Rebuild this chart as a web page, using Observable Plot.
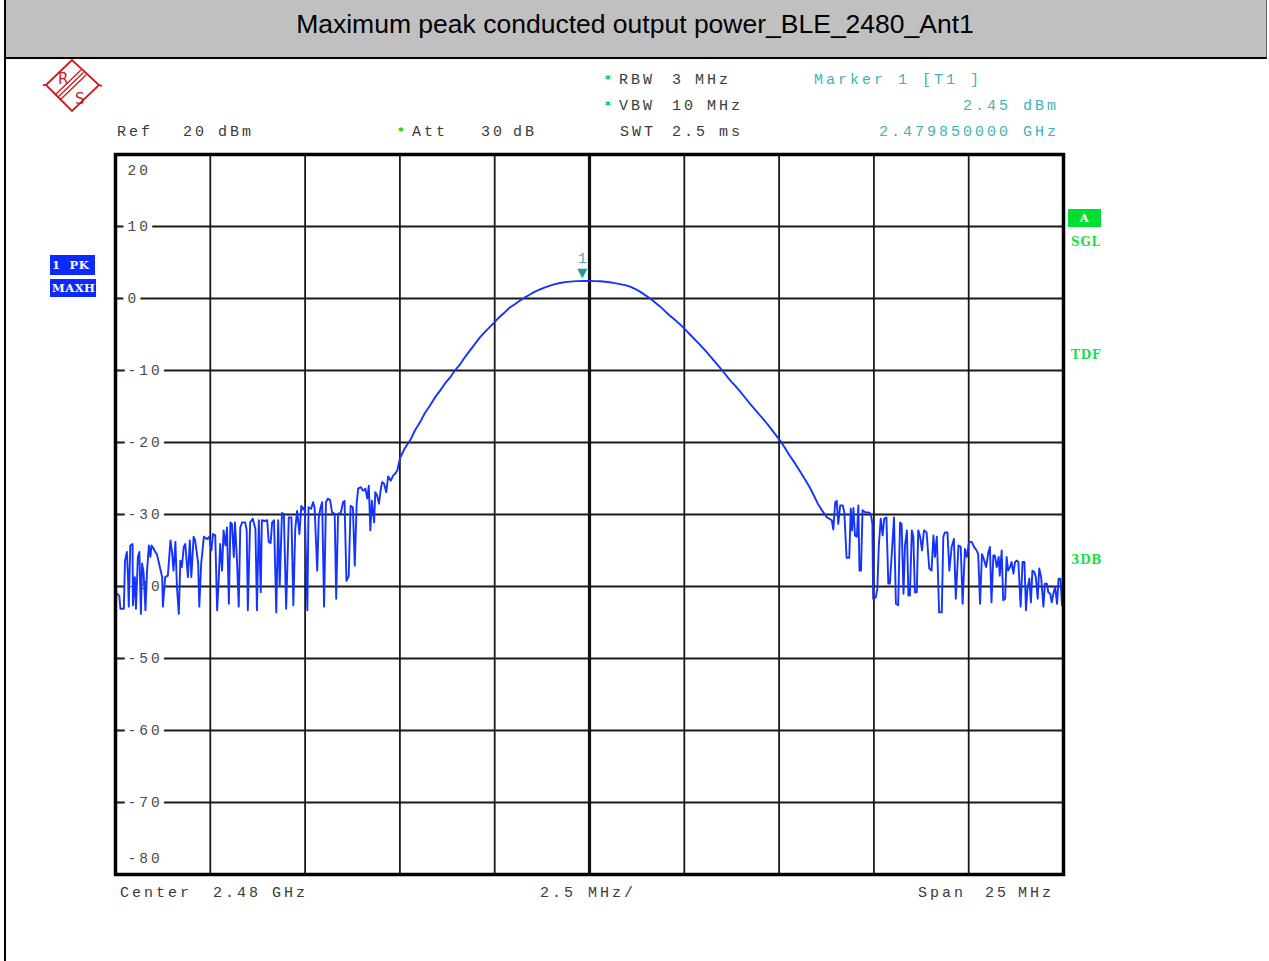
<!DOCTYPE html>
<html><head><meta charset="utf-8">
<script src="https://cdn.jsdelivr.net/npm/d3@7"></script>
<script src="https://cdn.jsdelivr.net/npm/@observablehq/plot@0.6"></script>
<style>
html,body{margin:0;padding:0;background:#fff;width:1269px;height:961px;overflow:hidden;}
#wrap{position:relative;width:1269px;height:961px;}
#chart{position:absolute;left:0;top:0;z-index:1;}
#chart svg text{letter-spacing:3px;}
#titlebar{position:absolute;left:4px;top:0;width:1262px;height:57px;background:#c0c0c0;border-bottom:2px solid #000;border-right:1px solid #666;z-index:2;
  font-family:"Liberation Sans",Arial,sans-serif;font-size:26.5px;color:#000;text-align:center;line-height:48px;}
#leftline{position:absolute;left:4px;top:0;width:2px;height:961px;background:#000;z-index:3;}
.t{position:absolute;font-family:"Liberation Mono",monospace;font-size:15px;letter-spacing:3px;color:#3a3a3a;white-space:pre;line-height:15px;transform:translateY(-50%);z-index:2;}
.teal{color:#3cb4b8;}
.star{position:absolute;color:#00c020;font-family:"DejaVu Sans",sans-serif;font-size:11px;font-weight:bold;line-height:11px;transform:translateY(-50%);z-index:2;}
.box{position:absolute;color:#fff;font-family:"DejaVu Serif",serif;font-weight:bold;font-size:11.5px;line-height:11px;overflow:hidden;white-space:pre;z-index:2;display:flex;align-items:center;letter-spacing:0.5px;}
.grn{position:absolute;color:#22dd44;font-family:"DejaVu Serif",serif;font-weight:bold;font-size:12px;letter-spacing:0.8px;line-height:12px;transform:translateY(-50%);z-index:2;}
#logo{position:absolute;left:40px;top:55px;z-index:2;}
</style></head>
<body>
<div id="wrap">
  <div id="chart"></div>
  <div id="titlebar">Maximum peak conducted output power_BLE_2480_Ant1</div>
  <div id="leftline"></div>
  <svg id="logo" width="64" height="60" viewBox="0 0 64 60">
    <g stroke="#cc1a1a" fill="none" stroke-width="1.8">
      <polygon points="6,30 32,5 59,30 32,56"/>
      <line x1="3" y1="30" x2="6" y2="30"/>
      <line x1="59" y1="30" x2="62" y2="31"/>
      <line x1="15" y1="40" x2="41" y2="15" stroke-width="1.3"/>
      <line x1="17.5" y1="42.5" x2="43.5" y2="17.5" stroke-width="1.3"/>
      <line x1="20" y1="45" x2="46" y2="20" stroke-width="1.3"/>
    </g>
    <text x="18" y="29" fill="#cc1a1a" font-family="DejaVu Sans" font-size="15">R</text>
    <text x="35" y="49" fill="#cc1a1a" font-family="DejaVu Sans" font-size="15">S</text>
  </svg>
</div>
<script>
// Grid divisions (MHz offset from 2.48 GHz centre) and level ticks (dBm)
const xDivisions = [-12.5,-10,-7.5,-5,-2.5,0,2.5,5,7.5,10,12.5];
const yTicks = [20,10,0,-10,-20,-30,-40,-50,-60,-70,-80];

// Trace: left noise floor (MHz offset, dBm)
const leftNoiseF = [-12.46,-12.40,-12.37,-12.28,-12.25,-12.20,-12.17,-12.15,-12.11,-12.05,-12.04,-11.99,-11.96,-11.91,-11.87,-11.83,-11.80,-11.76,-11.71,-11.67,-11.62,-11.58,-11.55,-11.49,-11.45,-11.41,-11.36,-11.27,-11.25,-11.19,-11.12,-11.05,-11.01,-10.97,-10.92,-10.88,-10.83,-10.79,-10.75,-10.70,-10.66,-10.59,-10.54,-10.50,-10.44,-10.40,-10.32,-10.29,-10.24,-10.17,-10.09,-10.03,-9.97,-9.93,-9.87,-9.82,-9.78,-9.74,-9.69,-9.65,-9.60,-9.56,-9.51,-9.47,-9.43,-9.38,-9.35,-9.30,-9.25,-9.21,-9.16,-9.08,-9.04,-9.01,-8.95,-8.88,-8.81,-8.77,
-8.72,-8.67,-8.64,-8.57,-8.50,-8.46,-8.41,-8.37,-8.32,-8.26,-8.21,-8.17,-8.11,-8.06,-8.00,-7.93,-7.86,-7.81,-7.76,-7.71,-7.65,-7.60,-7.55,-7.51,-7.44,-7.41,-7.34,-7.29,-7.25,-7.18,-7.14,-7.09,-7.05,-7.00,-6.95,-6.90,-6.84,-6.79,-6.72,-6.68,-6.63,-6.56,-6.50,-6.46,-6.41,-6.35,-6.30,-6.24,-6.19,-6.14,-6.10,-6.03,-5.97,-5.91,-5.86,-5.82,-5.78,-5.74,-5.68,-5.65,-5.60,-5.55,-5.51,-5.47,-5.42,-5.36,-5.31,-5.24,-5.18,-5.12,-5.07];
const leftNoiseP = [-41.0,-41.3,-43.1,-43.1,-36.4,-35.2,-38.7,-42.8,-34.3,-34.1,-42.6,-38.7,-43.1,-35.9,-35.2,-43.8,-36.8,-38.0,-43.3,-38.0,-34.3,-35.9,-34.3,-34.8,-35.2,-35.5,-36.6,-38.7,-42.8,-38.7,-38.5,-33.6,-35.2,-37.8,-33.8,-40.1,-43.8,-36.4,-37.3,-34.5,-34.1,-38.7,-33.6,-38.7,-33.1,-33.6,-36.8,-42.8,-36.8,-33.1,-33.4,-33.1,-35.0,-32.7,-32.9,-43.3,-39.2,-34.1,-37.8,-32.2,-34.3,-31.8,-42.4,-31.1,-31.3,-35.9,-31.1,-35.9,-42.8,-31.8,-31.1,-31.1,-32.2,-43.3,-31.1,-30.6,-32.0,-43.3,
-30.8,-40.8,-30.8,-30.9,-30.8,-33.8,-34.0,-31.1,-30.8,-43.6,-30.8,-39.9,-29.8,-29.9,-43.1,-30.4,-30.4,-42.6,-32.0,-29.5,-32.7,-28.8,-29.3,-28.9,-43.3,-29.0,-29.2,-28.3,-29.0,-37.8,-30.4,-29.0,-28.3,-42.8,-28.3,-27.8,-28.0,-29.7,-29.9,-41.7,-29.9,-29.8,-28.3,-28.1,-39.2,-38.6,-28.8,-29.0,-37.1,-28.5,-26.4,-26.2,-26.7,-26.4,-27.8,-26.0,-32.2,-28.1,-31.1,-26.9,-27.4,-28.5,-26.7,-25.5,-25.7,-26.9,-24.7,-25.3,-24.6,-24.3,-23.9];

// Trace: main lobe
const lobeF = [-5.00,-4.87,-4.73,-4.60,-4.47,-4.34,-4.21,-4.07,-3.94,-3.81,-3.68,-3.55,-3.42,-3.28,-3.15,-3.02,-2.89,-2.75,-2.62,-2.49,-2.36,-2.23,-2.10,-1.97,-1.84,-1.70,-1.57,-1.44,-1.31,-1.17,-1.04,-0.91,-0.78,-0.64,-0.51,-0.33,-0.15,0.01,0.14,0.28,0.41,0.54,0.67,0.80,0.94,1.07,1.20,1.33,1.46,1.60,1.73,1.86,1.99,2.12,2.26,2.39,2.52,2.65,2.78,2.91,3.05,3.18,3.31,3.44,3.57,3.70,3.84,3.97,4.10,4.23,4.36,4.50,4.63,4.76,4.89,5.02,5.16,5.29,5.42,5.55,5.68,5.81,5.92,6.02,6.14,6.26];
const lobeP = [-22.2,-20.8,-19.7,-18.3,-17.2,-15.9,-14.9,-13.7,-12.8,-11.8,-11.0,-10.0,-9.2,-8.1,-7.2,-6.3,-5.4,-4.6,-3.9,-3.2,-2.5,-1.9,-1.25,-0.8,-0.3,0.15,0.55,0.95,1.25,1.55,1.8,2.0,2.15,2.28,2.35,2.42,2.45,2.43,2.42,2.4,2.33,2.25,2.14,2.0,1.85,1.65,1.35,0.95,0.5,0.0,-0.55,-1.1,-1.75,-2.4,-3.0,-3.6,-4.3,-5.0,-5.7,-6.4,-7.2,-8.0,-8.8,-9.6,-10.45,-11.3,-12.1,-12.9,-13.75,-14.6,-15.4,-16.25,-17.05,-17.9,-18.8,-19.7,-20.8,-21.9,-22.9,-24.0,-25.1,-26.25,-27.4,-28.5,-29.5,-30.4];

// Trace: right noise floor
const rightNoiseF = [6.39,6.43,6.48,6.52,6.56,6.61,6.68,6.72,6.78,6.85,6.89,6.92,6.96,7.00,7.05,7.09,7.12,7.16,7.20,7.27,7.35,7.42,7.46,7.48,7.55,7.59,7.63,7.68,7.73,7.77,7.83,7.88,7.92,7.98,8.03,8.08,8.14,8.19,8.23,8.28,8.32,8.37,8.41,8.45,8.50,8.54,8.58,8.63,8.67,8.72,8.77,8.82,8.89,8.96,9.02,9.07,9.11,9.16,9.22,9.29,9.33,9.37,9.44,9.49,9.55,9.61,9.66,9.73,9.79,9.84,9.90,9.95,10.01,10.08,10.14,10.21,10.25,10.30,10.35,10.40,10.46,10.52,10.56,10.60,10.65,10.69,10.74,10.79,10.82,10.87,10.91,10.96,11.00,11.04,11.09,11.13,11.18,11.22,11.27,11.31,11.37,11.42,11.47,11.51,11.55,11.60,11.64,11.68,11.73,11.77,11.82,11.86,11.91,11.97,12.01,12.06,12.10,12.15,12.19,12.24,12.28,12.33,12.37,12.42,12.46,12.50];
const rightNoiseP = [-30.8,-32.1,-28.3,-28.1,-31.3,-28.75,-28.75,-29.7,-36.0,-36.0,-29.2,-32.2,-29.1,-32.9,-33.1,-28.75,-37.8,-37.8,-29.4,-29.7,-29.7,-29.9,-31.3,-41.7,-41.5,-40.3,-34.3,-30.6,-32.9,-30.6,-30.4,-39.6,-39.6,-34.8,-30.4,-42.4,-42.6,-31.1,-31.3,-41.0,-34.3,-32.2,-41.25,-41.25,-32.2,-33.1,-40.8,-40.8,-32.2,-33.1,-35.0,-32.2,-32.5,-37.5,-37.8,-32.9,-35.9,-33.1,-43.6,-43.6,-33.1,-32.5,-32.5,-37.8,-34.5,-33.4,-41.7,-34.3,-34.5,-42.4,-34.8,-35.9,-33.8,-33.8,-34.5,-35.0,-35.5,-42.4,-35.5,-36.2,-37.3,-35.2,-34.5,-42.2,-35.7,-35.7,-37.3,-35.9,-38.5,-35.0,-41.9,-41.7,-35.9,-37.8,-37.3,-36.6,-38.2,-36.6,-36.4,-36.6,-42.8,-36.6,-36.6,-43.3,-40.3,-38.9,-42.2,-37.8,-38.0,-38.7,-41.7,-37.5,-38.7,-42.8,-39.6,-39.6,-40.8,-41.0,-42.2,-40.8,-40.1,-42.4,-38.9,-38.9,-42.6,-42.8];

// Marker 1
const markerF = [-0.15];
const markerP = [2.45];
const markerLabel = ["1"];

// Annotation texts
const headerTexts = [
  {t:"RBW", x:619, y:80}, {t:"3", x:672, y:80}, {t:"MHz", x:695, y:80},
  {t:"VBW", x:619, y:106}, {t:"10", x:672, y:106}, {t:"MHz", x:707, y:106},
  {t:"SWT", x:620, y:132}, {t:"2.5", x:672, y:132}, {t:"ms", x:719, y:132},
  {t:"Ref", x:117, y:132}, {t:"20", x:183, y:132}, {t:"dBm", x:218, y:132},
  {t:"Att", x:412, y:132}, {t:"30", x:481, y:132}, {t:"dB", x:513, y:132},
  {t:"Center", x:120, y:893}, {t:"2.48", x:213, y:893}, {t:"GHz", x:272, y:893},
  {t:"2.5", x:540, y:893}, {t:"MHz/", x:588, y:893},
  {t:"Span", x:918, y:893}, {t:"25", x:985, y:893}, {t:"MHz", x:1018, y:893}
];
const tealTexts = [
  {t:"Marker 1 [T1 ]", x:814, y:80, right:false},
  {t:"2.45 dBm", x:1056, y:106, right:true},
  {t:"2.479850000 GHz", x:1056, y:132, right:true}
];
const stars = [{x:605, y:79}, {x:605, y:105}, {x:398, y:131}];
const boxes = [
  {t:"A", x:1068, y:209, w:33, h:18, bg:"#00dd33", center:true},
  {t:"1  PK", x:50, y:255, w:45, h:20, bg:"#0a2aff"},
  {t:"MAXH", x:50, y:279, w:46, h:18, bg:"#0a2aff"}
];
const sideFlags = [{t:"SGL", x:1071, y:242}, {t:"TDF", x:1071, y:355}, {t:"3DB", x:1071, y:560}];

function zipTrace(F, P) {
  const n = Math.min(F.length, P.length);
  const out = [];
  for (let i = 0; i < n; i++) out.push({f: F[i], p: P[i]});
  return out;
}
const trace = [...zipTrace(leftNoiseF, leftNoiseP), ...zipTrace(lobeF, lobeP), ...zipTrace(rightNoiseF, rightNoiseP)];
const marker = zipTrace(markerF, markerP).map((d, i) => ({...d, label: markerLabel[i]}));

const innerGridX = xDivisions.filter(v => v !== 0 && Math.abs(v) !== 12.5);
const innerGridY = yTicks.slice(1, -1);
const fmt = v => String(v);

const plot = Plot.plot({
  width: 1269, height: 961,
  marginLeft: 115, marginRight: 206, marginTop: 154, marginBottom: 87,
  style: {fontFamily: "'Liberation Mono', monospace", fontSize: "14.5px", background: "transparent", overflow: "visible"},
  x: {domain: [xDivisions[0], xDivisions[xDivisions.length - 1]], axis: null},
  y: {domain: [yTicks[yTicks.length - 1], yTicks[0]], axis: null},
  marks: [
    Plot.ruleX(innerGridX, {stroke: "#1a1a1a", strokeWidth: 1.8}),
    Plot.ruleY(innerGridY, {stroke: "#1a1a1a", strokeWidth: 1.8}),
    Plot.ruleX([0], {stroke: "#111", strokeWidth: 3.2}),
    // level labels with white halo
    Plot.text(innerGridY, {y: d => d, text: fmt, frameAnchor: "left", dx: 12, textAnchor: "start", fill: "white", stroke: "white", strokeWidth: 10, strokeLinejoin: "miter"}),
    Plot.text(innerGridY, {y: d => d, text: fmt, frameAnchor: "left", dx: 12, textAnchor: "start", fill: "#4a4a4a"}),
    Plot.text([yTicks[0]], {y: d => d, text: fmt, frameAnchor: "left", dx: 12, dy: 16, textAnchor: "start", fill: "#4a4a4a"}),
    Plot.text([yTicks[yTicks.length - 1]], {y: d => d, text: fmt, frameAnchor: "left", dx: 12, dy: -16, textAnchor: "start", fill: "#4a4a4a"}),
    Plot.line(trace, {x: "f", y: "p", stroke: "#1433ff", strokeWidth: 1.9}),
    Plot.text(marker, {x: "f", y: "p", text: () => "\u25BC", fill: "#1a9c9c", fontSize: 13, fontFamily: "DejaVu Sans", dy: -8}),
    Plot.text(marker, {x: "f", y: "p", text: "label", fill: "#3cb4b8", dy: -23}),
    Plot.frame({stroke: "#000", strokeWidth: 3.5})
  ]
});
document.getElementById("chart").appendChild(plot);

const wrap = document.getElementById("wrap");
function add(cls, text, css) {
  const d = document.createElement("div");
  d.className = cls; d.textContent = text;
  Object.assign(d.style, css);
  wrap.appendChild(d);
  return d;
}
headerTexts.forEach(h => add("t", h.t, {left: h.x + "px", top: h.y + "px"}));
tealTexts.forEach(h => {
  if (h.right) add("t teal", h.t, {right: (1269 - h.x - 3) + "px", top: h.y + "px"});
  else add("t teal", h.t, {left: h.x + "px", top: h.y + "px"});
});
stars.forEach(s => add("star", "*", {left: s.x + "px", top: s.y + "px"}));
boxes.forEach(b => add("box", b.t, {left: b.x + "px", top: b.y + "px", width: b.w + "px", height: b.h + "px", background: b.bg, paddingLeft: b.center ? "0" : "2px", justifyContent: b.center ? "center" : "flex-start", boxSizing: "border-box"}));
sideFlags.forEach(s => add("grn", s.t, {left: s.x + "px", top: s.y + "px"}));
</script>
</body></html>
